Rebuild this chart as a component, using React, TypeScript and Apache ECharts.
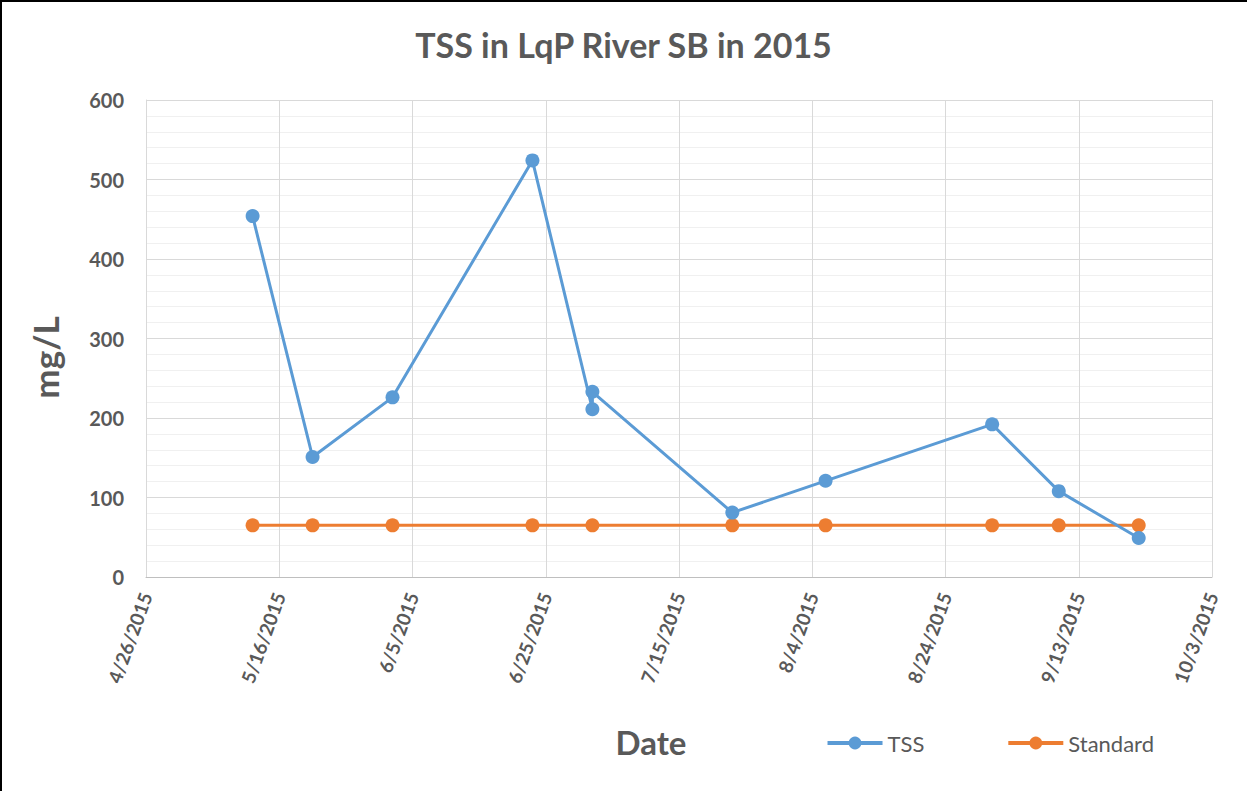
import React, { useEffect, useRef } from "react";
import * as echarts from "echarts";

const START_DATE = "2015-04-26";
const X_MAX_DAYS = 160;
const X_TICK_DAYS = 20;
const Y_TICKS = [0, 100, 200, 300, 400, 500, 600];

const tssDates = ["2015-05-12", "2015-05-21", "2015-06-02", "2015-06-23", "2015-07-02", "2015-07-02", "2015-07-23", "2015-08-06", "2015-08-31", "2015-09-10", "2015-09-22"];
const tssValues = [454, 151, 226, 524, 211, 233, 81, 121, 192, 108, 49];

const standardDates = ["2015-05-12", "2015-05-21", "2015-06-02", "2015-06-23", "2015-07-02", "2015-07-23", "2015-08-06", "2015-08-31", "2015-09-10", "2015-09-22"];
const standardValues = [65, 65, 65, 65, 65, 65, 65, 65, 65, 65];

const DAY = 86400000;
const startMs = Date.parse(START_DATE + "T00:00:00Z");
const toDays = (d: string) => Math.round((Date.parse(d + "T00:00:00Z") - startMs) / DAY);
const fmtDay = (v: number) => {
  const d = new Date(startMs + v * DAY);
  return `${d.getUTCMonth() + 1}/${d.getUTCDate()}/${d.getUTCFullYear()}`;
};

const FONT = "Lato, 'Open Sans', sans-serif";
const GRAY = "#595959";

export default function App() {
  const ref = useRef<HTMLDivElement>(null);
  useEffect(() => {
    if (!ref.current) return;
    const chart = echarts.init(ref.current, undefined, { renderer: "svg" });
    chart.setOption({
      animation: false,
      backgroundColor: "#ffffff",
      textStyle: { fontFamily: FONT },
      title: {
        text: "TSS in LqP River SB in 2015",
        left: "center",
        top: 22,
        textStyle: { fontFamily: FONT, fontSize: 34, fontWeight: "bold", color: GRAY },
      },
      graphic: [
        { type: "rect", left: 0, top: 0, shape: { width: 1247, height: 2 }, style: { fill: "#000" }, silent: true },
        { type: "rect", left: 0, top: 0, shape: { width: 2, height: 791 }, style: { fill: "#000" }, silent: true },
      ],
      legend: {
        right: 88,
        top: 727,
        itemGap: 82,
        itemWidth: 55,
        itemHeight: 16,
        lineStyle: { width: 4 },
        textStyle: { fontFamily: FONT, fontSize: 22, color: GRAY },
        data: ["TSS", "Standard"],
      },
      grid: { left: 146, right: 35, top: 100, bottom: 214, containLabel: false },
      xAxis: {
        type: "value",
        min: 0,
        max: X_MAX_DAYS,
        interval: X_TICK_DAYS,
        name: "Date",
        nameLocation: "middle",
        nameGap: 148,
        nameTextStyle: { fontFamily: FONT, fontSize: 33, fontWeight: "bold", color: GRAY, padding: [0, 56, 0, 0] },
        axisLine: { show: true, lineStyle: { color: "#bfbfbf", width: 1 } },
        axisTick: { show: false },
        splitLine: { show: true, lineStyle: { color: "#d9d9d9", width: 1 } },
        axisLabel: {
          rotate: 70,
          margin: 16,
          fontFamily: FONT,
          fontSize: 19,
          fontWeight: "bold",
          color: GRAY,
          formatter: (v: number) => fmtDay(v),
        },
      },
      yAxis: {
        type: "value",
        min: Y_TICKS[0],
        max: Y_TICKS[Y_TICKS.length - 1],
        interval: 100,
        name: "mg/L",
        nameLocation: "middle",
        nameGap: 84,
        nameTextStyle: { fontFamily: FONT, fontSize: 35, fontWeight: "bold", color: GRAY, padding: [0, 38, 0, 0] },
        axisLine: { show: true, lineStyle: { color: "#d9d9d9", width: 1 } },
        axisTick: { show: false },
        splitLine: { show: true, lineStyle: { color: "#d9d9d9", width: 1 } },
        minorTick: { show: false, splitNumber: 5 },
        minorSplitLine: { show: true, lineStyle: { color: "#f0f0f0", width: 1 } },
        axisLabel: { margin: 22, fontFamily: FONT, fontSize: 20, fontWeight: "bold", color: GRAY },
      },
      series: [
        {
          name: "TSS",
          type: "line",
          data: tssDates.map((d, i) => [toDays(d), tssValues[i]]),
          symbol: "circle",
          symbolSize: 14,
          lineStyle: { color: "#5B9BD5", width: 3 },
          itemStyle: { color: "#5B9BD5" },
          z: 3,
        },
        {
          name: "Standard",
          type: "line",
          data: standardDates.map((d, i) => [toDays(d), standardValues[i]]),
          symbol: "circle",
          symbolSize: 14,
          lineStyle: { color: "#ED7D31", width: 3 },
          itemStyle: { color: "#ED7D31" },
          z: 2,
        },
      ],
    });
    return () => chart.dispose();
  }, []);
  return <div ref={ref} style={{ position: "absolute", left: 0, top: 0, width: 1247, height: 791 }} />;
}
